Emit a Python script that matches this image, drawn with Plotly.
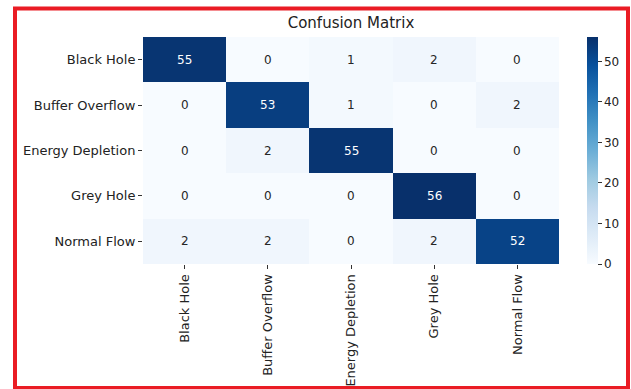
import plotly.graph_objects as go

# Class labels (rows = true class, columns = predicted class)
labels = ["Black Hole", "Buffer Overflow", "Energy Depletion", "Grey Hole", "Normal Flow"]

# Confusion matrix counts, one list per true class
row_black_hole = [55, 0, 1, 2, 0]
row_buffer_overflow = [0, 53, 1, 0, 2]
row_energy_depletion = [0, 2, 55, 0, 0]
row_grey_hole = [0, 0, 0, 56, 0]
row_normal_flow = [2, 2, 0, 2, 52]

counts = [row_black_hole, row_buffer_overflow, row_energy_depletion, row_grey_hole, row_normal_flow]

colorbar_ticks = [0, 10, 20, 30, 40, 50]

W, H = 631, 389
ML, MR, MT, MB = 143, 72, 37, 125
PW, PH = W - ML - MR, H - MT - MB

blues = [
    [0.000, "#f7fbff"], [0.125, "#deebf7"], [0.250, "#c6dbef"],
    [0.375, "#9ecae1"], [0.500, "#6baed6"], [0.625, "#4292c6"],
    [0.750, "#2171b5"], [0.875, "#08519c"], [1.000, "#08306b"],
]

zmax = max(max(r) for r in counts)
zmin = min(min(r) for r in counts)

fig = go.Figure(
    go.Heatmap(
        z=counts,
        x=labels,
        y=labels,
        colorscale=blues,
        zmin=zmin,
        zmax=zmax,
        hoverongaps=False,
        colorbar=dict(
            x=(587 - ML) / PW,
            xanchor="left",
            xpad=0,
            ypad=0,
            y=0.5,
            yanchor="middle",
            len=1.0,
            lenmode="fraction",
            thickness=11,
            outlinewidth=0,
            tickvals=colorbar_ticks,
            ticks="outside",
            ticklen=4,
            tickwidth=1,
            tickcolor="#333333",
            tickfont=dict(family="DejaVu Sans", size=12, color="#222222"),
        ),
    )
)

# Cell value labels: white on dark cells, dark on light cells
annotations = []
for i, row in enumerate(counts):
    for j, v in enumerate(row):
        frac = (v - zmin) / (zmax - zmin)
        annotations.append(
            dict(
                x=labels[j], y=labels[i], text=str(v), showarrow=False,
                font=dict(family="DejaVu Sans", size=12,
                          color="#ffffff" if frac > 0.5 else "#262626"),
            )
        )

fig.update_layout(
    width=W,
    height=H,
    margin=dict(l=ML, r=MR, t=MT, b=MB, pad=0, autoexpand=False),
    paper_bgcolor="white",
    plot_bgcolor="white",
    font=dict(family="DejaVu Sans", color="#222222"),
    title=dict(
        text="Confusion Matrix",
        x=0.5, xref="paper", xanchor="center",
        y=1 - 23 / H, yref="container", yanchor="middle",
        automargin=False,
        font=dict(family="DejaVu Sans", size=15, color="#222222"),
    ),
    annotations=annotations,
    xaxis=dict(
        tickangle=-90,
        automargin=False,
        ticks="outside", ticklen=4, tickwidth=1, tickcolor="#333333",
        tickfont=dict(family="DejaVu Sans", size=13, color="#222222"),
        showgrid=False, zeroline=False, showline=False,
    ),
    yaxis=dict(
        autorange="reversed",
        automargin=False,
        ticks="outside", ticklen=4, tickwidth=1, tickcolor="#333333",
        tickfont=dict(family="DejaVu Sans", size=13, color="#222222"),
        showgrid=False, zeroline=False, showline=False,
    ),
)

# Red frame around the whole figure
def px_x(p):
    return (p - ML) / PW

def px_y(p):
    return 1 - (p - MT) / PH

fig.add_shape(
    type="rect", xref="paper", yref="paper",
    x0=px_x(15), x1=px_x(628), y0=px_y(388), y1=px_y(8.5),
    line=dict(color="#ea1c24", width=4), fillcolor="rgba(0,0,0,0)",
    layer="above",
)

fig.write_html("out.html")
